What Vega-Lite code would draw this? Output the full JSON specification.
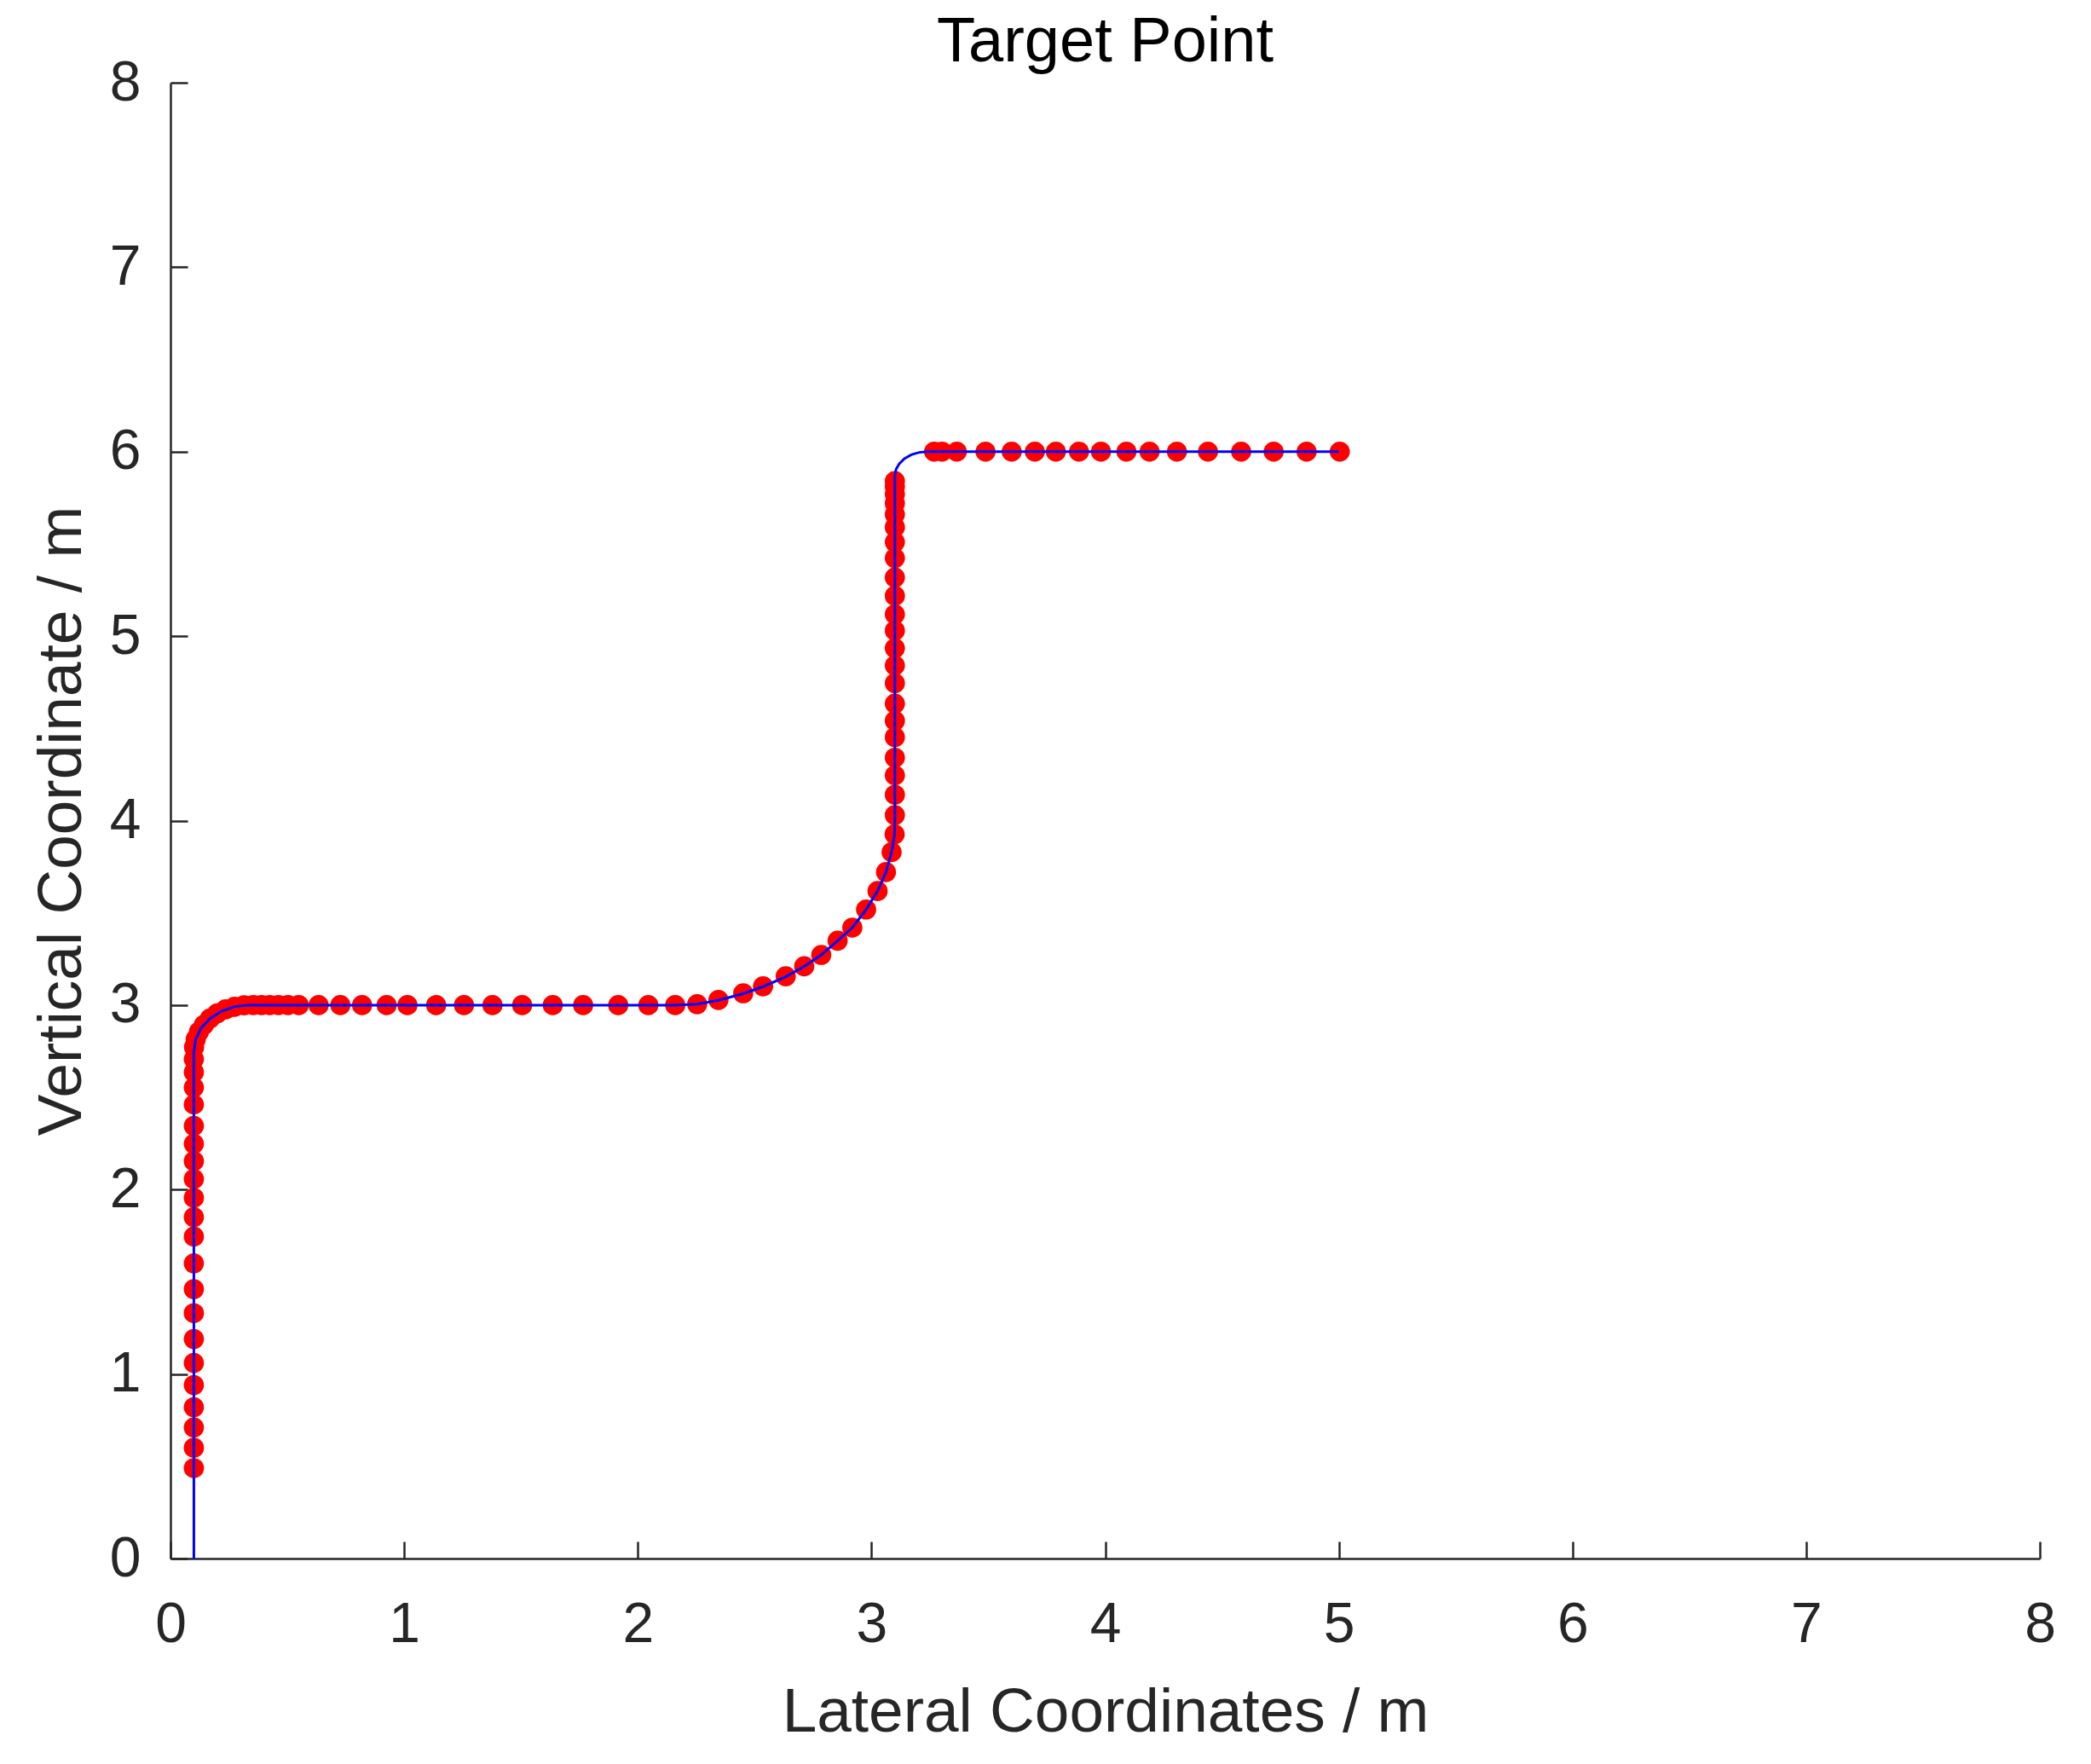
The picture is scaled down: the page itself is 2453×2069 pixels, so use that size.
{
  "$schema": "https://vega.github.io/schema/vega-lite/v6.json",
  "autosize": {"type": "none"},
  "padding": {"left": 200, "top": 97, "right": 60, "bottom": 241},
  "width": 2193,
  "height": 1731,
  "background": "white",
  "config": {
    "view": {"stroke": null},
    "axis": {
      "grid": false,
      "domainColor": "#262626",
      "domainWidth": 2.5,
      "tickColor": "#262626",
      "tickWidth": 2.5,
      "tickSize": -20,
      "labelFont": "Liberation Sans",
      "labelFontSize": 66,
      "labelColor": "#262626",
      "labelFlush": false,
      "labelOverlap": false,
      "labelBound": false,
      "format": "d",
      "titleFont": "Liberation Sans",
      "titleFontSize": 73,
      "titleFontWeight": "normal",
      "titleColor": "#262626"
    }
  },
  "title": {
    "text": "Target Point",
    "font": "Liberation Sans",
    "fontSize": 74,
    "fontWeight": "normal",
    "color": "#000000",
    "anchor": "middle",
    "baseline": "alphabetic",
    "offset": -82
  },
  "datasets": {
    "points": [
      {"x": 0.1, "y": 0.49}, {"x": 0.1, "y": 0.6}, {"x": 0.1, "y": 0.71}, {"x": 0.1, "y": 0.82},
      {"x": 0.1, "y": 0.94}, {"x": 0.1, "y": 1.06}, {"x": 0.1, "y": 1.19}, {"x": 0.1, "y": 1.33},
      {"x": 0.1, "y": 1.46}, {"x": 0.1, "y": 1.6}, {"x": 0.1, "y": 1.745}, {"x": 0.1, "y": 1.85},
      {"x": 0.1, "y": 1.955}, {"x": 0.1, "y": 2.057}, {"x": 0.1, "y": 2.154}, {"x": 0.1, "y": 2.248},
      {"x": 0.1, "y": 2.345}, {"x": 0.1, "y": 2.461}, {"x": 0.1, "y": 2.553}, {"x": 0.1, "y": 2.636},
      {"x": 0.1, "y": 2.707},
      {"x": 0.101, "y": 2.772}, {"x": 0.108, "y": 2.815}, {"x": 0.122, "y": 2.856}, {"x": 0.143, "y": 2.893},
      {"x": 0.169, "y": 2.927}, {"x": 0.2, "y": 2.955}, {"x": 0.236, "y": 2.977}, {"x": 0.274, "y": 2.991},
      {"x": 0.315, "y": 2.999},
      {"x": 0.355, "y": 3.0}, {"x": 0.39, "y": 3.0}, {"x": 0.425, "y": 3.0}, {"x": 0.462, "y": 3.0},
      {"x": 0.503, "y": 3.0}, {"x": 0.549, "y": 3.0}, {"x": 0.634, "y": 3.0}, {"x": 0.727, "y": 3.0},
      {"x": 0.82, "y": 3.0}, {"x": 0.925, "y": 3.0}, {"x": 1.014, "y": 3.0}, {"x": 1.137, "y": 3.0},
      {"x": 1.256, "y": 3.0}, {"x": 1.378, "y": 3.0}, {"x": 1.505, "y": 3.0}, {"x": 1.636, "y": 3.0},
      {"x": 1.766, "y": 3.0}, {"x": 1.916, "y": 3.0}, {"x": 2.045, "y": 3.0}, {"x": 2.16, "y": 3.0},
      {"x": 2.254, "y": 3.005}, {"x": 2.345, "y": 3.028}, {"x": 2.451, "y": 3.064}, {"x": 2.536, "y": 3.102},
      {"x": 2.633, "y": 3.156}, {"x": 2.712, "y": 3.21}, {"x": 2.785, "y": 3.272}, {"x": 2.855, "y": 3.349},
      {"x": 2.918, "y": 3.42}, {"x": 2.977, "y": 3.518}, {"x": 3.026, "y": 3.618}, {"x": 3.062, "y": 3.721},
      {"x": 3.086, "y": 3.829}, {"x": 3.099, "y": 3.926},
      {"x": 3.1, "y": 4.03}, {"x": 3.1, "y": 4.14}, {"x": 3.1, "y": 4.245}, {"x": 3.1, "y": 4.341},
      {"x": 3.1, "y": 4.452}, {"x": 3.1, "y": 4.541}, {"x": 3.1, "y": 4.634}, {"x": 3.1, "y": 4.745},
      {"x": 3.1, "y": 4.841}, {"x": 3.1, "y": 4.934}, {"x": 3.1, "y": 5.03}, {"x": 3.1, "y": 5.118},
      {"x": 3.1, "y": 5.218}, {"x": 3.1, "y": 5.318}, {"x": 3.1, "y": 5.423}, {"x": 3.1, "y": 5.51},
      {"x": 3.1, "y": 5.59}, {"x": 3.1, "y": 5.66}, {"x": 3.1, "y": 5.72}, {"x": 3.1, "y": 5.77},
      {"x": 3.1, "y": 5.81}, {"x": 3.1, "y": 5.84},
      {"x": 3.268, "y": 6.0}, {"x": 3.302, "y": 6.0}, {"x": 3.365, "y": 6.0}, {"x": 3.488, "y": 6.0},
      {"x": 3.6, "y": 6.0}, {"x": 3.699, "y": 6.0}, {"x": 3.789, "y": 6.0}, {"x": 3.888, "y": 6.0},
      {"x": 3.982, "y": 6.0}, {"x": 4.091, "y": 6.0}, {"x": 4.19, "y": 6.0}, {"x": 4.307, "y": 6.0},
      {"x": 4.44, "y": 6.0}, {"x": 4.582, "y": 6.0}, {"x": 4.721, "y": 6.0}, {"x": 4.862, "y": 6.0},
      {"x": 5.004, "y": 6.0}
    ],
    "path": [
      {"i": 1, "x": 0.1, "y": 0.0}, {"i": 2, "x": 0.1, "y": 2.75}, {"i": 3, "x": 0.108, "y": 2.815},
      {"i": 4, "x": 0.131, "y": 2.875}, {"i": 5, "x": 0.169, "y": 2.927}, {"i": 6, "x": 0.218, "y": 2.967},
      {"i": 7, "x": 0.274, "y": 2.992}, {"i": 8, "x": 0.335, "y": 3.0}, {"i": 9, "x": 2.16, "y": 3.0},
      {"i": 10, "x": 2.254, "y": 3.005}, {"i": 11, "x": 2.345, "y": 3.026}, {"i": 12, "x": 2.451, "y": 3.062},
      {"i": 13, "x": 2.536, "y": 3.1}, {"i": 14, "x": 2.633, "y": 3.154}, {"i": 15, "x": 2.712, "y": 3.21},
      {"i": 16, "x": 2.785, "y": 3.272}, {"i": 17, "x": 2.855, "y": 3.349}, {"i": 18, "x": 2.918, "y": 3.42},
      {"i": 19, "x": 2.977, "y": 3.518}, {"i": 20, "x": 3.026, "y": 3.618}, {"i": 21, "x": 3.062, "y": 3.721},
      {"i": 22, "x": 3.086, "y": 3.829}, {"i": 23, "x": 3.099, "y": 3.926}, {"i": 24, "x": 3.1, "y": 4.03},
      {"i": 25, "x": 3.1, "y": 5.87}, {"i": 26, "x": 3.105, "y": 5.904}, {"i": 27, "x": 3.119, "y": 5.935},
      {"i": 28, "x": 3.141, "y": 5.962}, {"i": 29, "x": 3.17, "y": 5.983}, {"i": 30, "x": 3.204, "y": 5.996},
      {"i": 31, "x": 3.24, "y": 6.0}, {"i": 32, "x": 5.0, "y": 6.0}
    ]
  },
  "layer": [
    {
      "data": {"name": "points"},
      "mark": {"type": "point", "shape": "circle", "filled": true, "size": 560, "color": "#ff0000", "opacity": 1, "strokeWidth": 0},
      "encoding": {
        "x": {"field": "x", "type": "quantitative", "scale": {"domain": [0, 8], "nice": false},
              "axis": {"values": [0, 1, 2, 3, 4, 5, 6, 7, 8], "title": "Lateral Coordinates / m", "labelBaseline": "alphabetic", "labelPadding": 117, "titleY": 202, "titleBaseline": "alphabetic"}},
        "y": {"field": "y", "type": "quantitative", "scale": {"domain": [0, 8], "nice": false},
              "axis": {"values": [0, 1, 2, 3, 4, 5, 6, 7, 8], "title": "Vertical Coordinate / m", "labelBaseline": "middle", "labelAlign": "right", "labelPadding": 55, "titleX": -106, "titleY": 865.5, "titleBaseline": "alphabetic", "titleAlign": "center", "titleAngle": -90}}
      }
    },
    {
      "data": {"name": "path"},
      "mark": {"type": "line", "color": "#0000ff", "strokeWidth": 3},
      "encoding": {
        "x": {"field": "x", "type": "quantitative"},
        "y": {"field": "y", "type": "quantitative"},
        "order": {"field": "i", "type": "quantitative"}
      }
    }
  ]
}
